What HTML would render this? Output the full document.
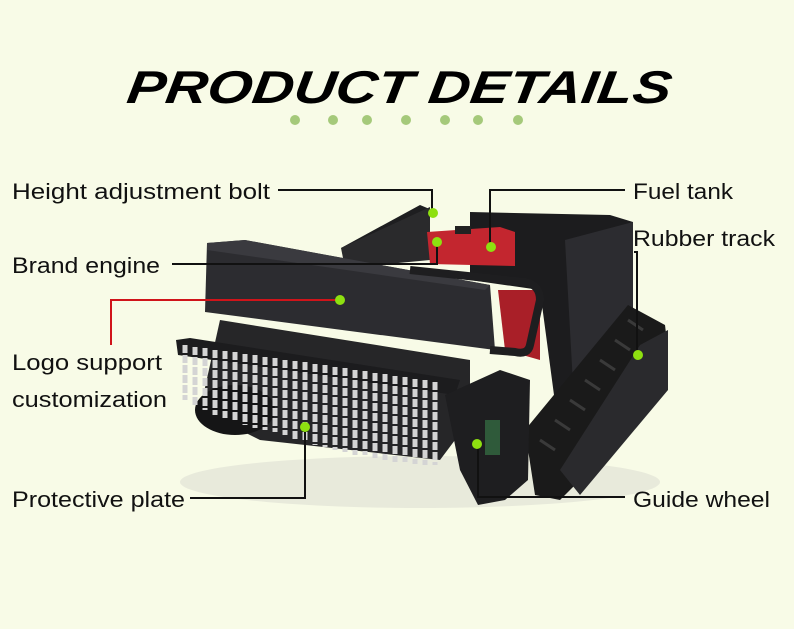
<!DOCTYPE html>
<html><head><meta charset="utf-8"><style>
html,body{margin:0;padding:0;background:#f8fbe7;}
svg{display:block}
text{font-family:"Liberation Sans",sans-serif;}
</style></head><body>
<svg width="794" height="629" viewBox="0 0 794 629" xmlns="http://www.w3.org/2000/svg">
<rect width="794" height="629" fill="#f8fbe7"/>
<text x="126" y="103" font-size="46" font-weight="bold" font-style="italic" textLength="544" lengthAdjust="spacingAndGlyphs" fill="#000" transform="skewX(-8) translate(14,0)">PRODUCT DETAILS</text>
<g fill="#a5c97a">
<circle cx="295" cy="120" r="5"/><circle cx="333" cy="120" r="5"/><circle cx="367" cy="120" r="5"/><circle cx="406" cy="120" r="5"/><circle cx="445" cy="120" r="5"/><circle cx="478" cy="120" r="5"/><circle cx="518" cy="120" r="5"/>
</g>
<ellipse cx="420" cy="482" rx="240" ry="26" fill="#e8eadb"/>
<!-- rear housing -->
<polygon points="341,248 420,205 432,210 350,250" fill="#1e1e20"/>
<polygon points="341,248 430,207 430,260 345,268" fill="#2a2a2c"/>
<polygon points="470,212 610,215 633,222 633,390 560,440 540,290 470,280" fill="#1c1c1e"/>
<polygon points="565,240 633,222 633,385 575,420" fill="#2c2c30"/>
<!-- red engine -->
<polygon points="427,232 500,227 515,232 515,266 430,264" fill="#c3262f"/>
<polygon points="498,290 540,290 540,360 505,350" fill="#a91f28"/>
<rect x="455" y="226" width="16" height="8" fill="#222"/>
<!-- track -->
<polygon points="525,430 628,305 665,325 668,350 600,460 560,500 535,495" fill="#1a1a1a"/>
<g stroke="#3a3a3a" stroke-width="3">
<line x1="540" y1="440" x2="555" y2="450"/><line x1="555" y1="420" x2="570" y2="430"/><line x1="570" y1="400" x2="585" y2="410"/><line x1="585" y1="380" x2="600" y2="390"/><line x1="600" y1="360" x2="615" y2="370"/><line x1="615" y1="340" x2="630" y2="350"/><line x1="628" y1="320" x2="643" y2="330"/>
</g>
<polygon points="560,470 640,345 668,330 668,390 580,495" fill="#2a2a2d"/>
<!-- front shield -->
<polygon points="207,243 245,240 490,285 495,350 205,312" fill="#2c2c30"/>
<polygon points="207,243 245,240 490,285 485,290 207,250" fill="#3a3a3f"/>
<path d="M410,270 L525,282 Q540,285 540,300 L530,345 Q528,355 515,352 L490,350" stroke="#1e1e20" stroke-width="8" fill="none"/>
<!-- lower body -->
<polygon points="220,320 470,360 470,420 440,460 260,440 200,410" fill="#262628"/>
<polygon points="176,340 190,338 460,380 455,395 178,355" fill="#1c1c1e"/>
<ellipse cx="235" cy="410" rx="40" ry="25" fill="#151516"/>
<!-- chains -->
<g stroke="#d4d4d4" stroke-width="5" stroke-dasharray="8,2">
<line x1="185" y1="345" x2="185" y2="400"/><line x1="195" y1="347" x2="195" y2="405"/><line x1="205" y1="348" x2="205" y2="410"/><line x1="215" y1="350" x2="215" y2="415"/><line x1="225" y1="351" x2="225" y2="418"/><line x1="235" y1="352" x2="235" y2="420"/><line x1="245" y1="354" x2="245" y2="425"/><line x1="255" y1="355" x2="255" y2="428"/><line x1="265" y1="357" x2="265" y2="430"/><line x1="275" y1="358" x2="275" y2="432"/><line x1="285" y1="360" x2="285" y2="435"/><line x1="295" y1="361" x2="295" y2="440"/><line x1="305" y1="362" x2="305" y2="442"/><line x1="315" y1="364" x2="315" y2="445"/><line x1="325" y1="365" x2="325" y2="447"/><line x1="335" y1="367" x2="335" y2="450"/><line x1="345" y1="368" x2="345" y2="452"/><line x1="355" y1="370" x2="355" y2="455"/><line x1="365" y1="371" x2="365" y2="455"/><line x1="375" y1="373" x2="375" y2="458"/><line x1="385" y1="374" x2="385" y2="460"/><line x1="395" y1="376" x2="395" y2="462"/><line x1="405" y1="377" x2="405" y2="462"/><line x1="415" y1="379" x2="415" y2="464"/><line x1="425" y1="380" x2="425" y2="465"/><line x1="435" y1="382" x2="435" y2="465"/>
</g>
<!-- side plate -->
<polygon points="445,395 500,370 530,380 528,480 505,500 478,505 460,470" fill="#1e1e20"/>
<rect x="485" y="420" width="15" height="35" fill="#2f5a3a"/>
<!-- connectors -->
<g stroke="#111" stroke-width="2" fill="none">
<polyline points="278,190 432,190 432,213"/>
<polyline points="625,190 490,190 490,247"/>
<polyline points="172,264 437,264 437,242"/>
<polyline points="634,252 637,252 637,355"/>
<polyline points="190,498 305,498 305,427"/>
<polyline points="625,497 478,497 478,445"/>
</g>
<polyline points="340,300 111,300 111,345" stroke="#d0141a" stroke-width="2" fill="none"/>
<g fill="#8ee010">
<circle cx="433" cy="213" r="5"/><circle cx="437" cy="242" r="5"/><circle cx="491" cy="247" r="5"/><circle cx="340" cy="300" r="5"/><circle cx="638" cy="355" r="5"/><circle cx="305" cy="427" r="5"/><circle cx="477" cy="444" r="5"/>
</g>
<g font-size="22" fill="#111">
<text x="12" y="199" textLength="258" lengthAdjust="spacingAndGlyphs">Height adjustment bolt</text>
<text x="12" y="273" textLength="148" lengthAdjust="spacingAndGlyphs">Brand engine</text>
<text x="12" y="370" textLength="150" lengthAdjust="spacingAndGlyphs">Logo support</text>
<text x="12" y="407" textLength="155" lengthAdjust="spacingAndGlyphs">customization</text>
<text x="12" y="507" textLength="173" lengthAdjust="spacingAndGlyphs">Protective plate</text>
<text x="633" y="199" textLength="100" lengthAdjust="spacingAndGlyphs">Fuel tank</text>
<text x="633" y="246" textLength="142" lengthAdjust="spacingAndGlyphs">Rubber track</text>
<text x="633" y="507" textLength="137" lengthAdjust="spacingAndGlyphs">Guide wheel</text>
</g>
</svg>
</body></html>
